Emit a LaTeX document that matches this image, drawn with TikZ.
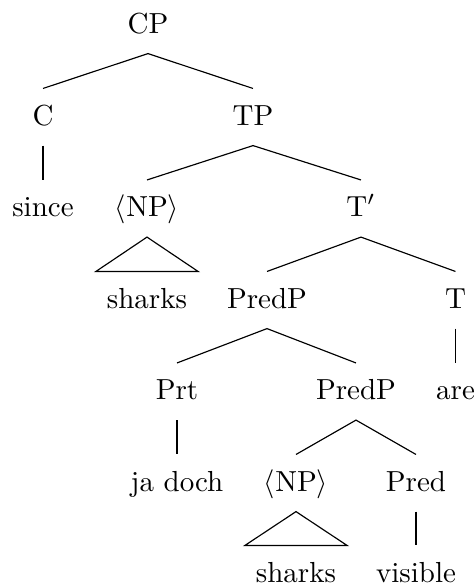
\documentclass[tikz,border=0pt]{standalone}
\usepackage{tikz}

\tikzset{
  tn/.style={inner sep=0pt,text height=12.4pt,text depth=6.9pt},
  roof/.style={tn,inner xsep=3.6pt},
}

\begin{document}
\begin{tikzpicture}[x=0.3448pt,y=-0.3448pt]
        \useasboundingbox (0,0) rectangle (474,583);

        % NODES
        \node[tn,anchor=base] (CP) at (148,33) {CP};

        \node[tn,anchor=base] (C) at (43,125) {C};
        \node[tn,anchor=base] (TP) at (253,125) {TP};

        \node[tn,anchor=base] (since) at (43,216.5) {since};
        \node[tn,anchor=base] (NPa) at (147,216.5) {$\langle$NP$\rangle$};
        \node[tn,anchor=base] (Tbar) at (361,216.5) {T$'$};

        \node[roof,anchor=base] (sharksa) at (147,308) {sharks};
        \node[tn,anchor=base] (PredPa) at (267,308) {PredP};
        \node[tn,anchor=base] (T) at (455.5,308) {T};

        \node[tn,anchor=base] (Prt) at (177,399.5) {Prt};
        \node[tn,anchor=base] (PredPb) at (356,399.5) {PredP};
        \node[tn,anchor=base] (are) at (455.5,399.5) {are};

        \node[tn,anchor=base] (jadoch) at (177,491) {ja doch};
        \node[tn,anchor=base] (NPb) at (296,491) {$\langle$NP$\rangle$};
        \node[tn,anchor=base] (Pred) at (416,491) {Pred};

        \node[roof,anchor=base] (sharksb) at (296,582) {sharks};
        \node[tn,anchor=base] (visible) at (416,582) {visible};

        % EDGES
        \draw (C.north) -- (CP.south) -- (TP.north);
        \draw (C.south) -- (since.north);
        \draw (NPa.north) -- (TP.south) -- (Tbar.north);
        \draw (PredPa.north) -- (Tbar.south) -- (T.north);
        \draw (T.south) -- (are.north);
        \draw (Prt.north) -- (PredPa.south) -- (PredPb.north);
        \draw (Prt.south) -- (jadoch.north);
        \draw (NPb.north) -- (PredPb.south) -- (Pred.north);
        \draw (Pred.south) -- (visible.north);

        % ROOFS
        \draw (NPa.south) -- (sharksa.north west) -- (sharksa.north east) -- cycle;
        \draw (NPb.south) -- (sharksb.north west) -- (sharksb.north east) -- cycle;

\end{tikzpicture}
\end{document}
